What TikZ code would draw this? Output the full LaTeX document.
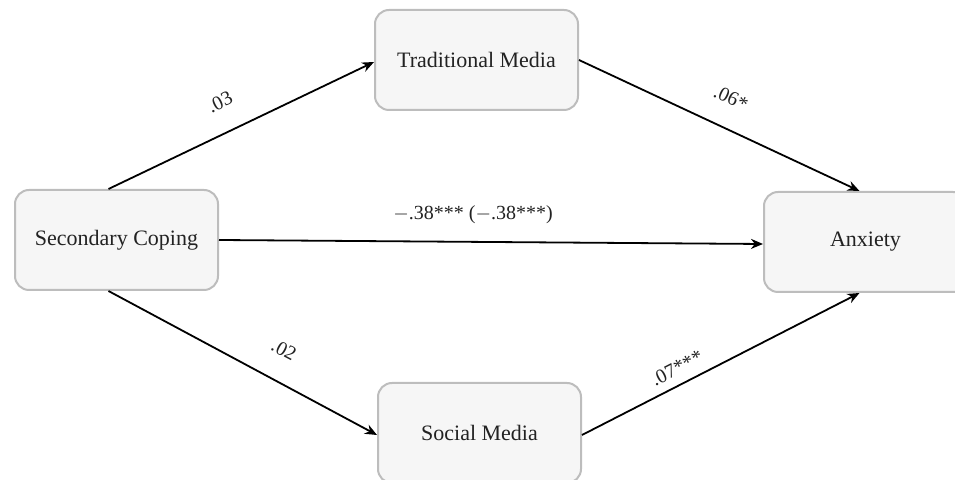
\documentclass[tikz,border=0pt]{standalone}
\usepackage{fontspec}
\setmainfont{Liberation Serif}
\usetikzlibrary{arrows.meta, positioning}
\definecolor{boxfill}{HTML}{F6F6F6}
\definecolor{boxline}{HTML}{BDBDBD}
\definecolor{txt}{HTML}{222222}

\begin{document}
\begin{tikzpicture}[
    x=0.5pt, y=-0.5pt,
    varbox/.style={rectangle, draw=boxline, fill=boxfill, line width=1pt, rounded corners=7pt, minimum width=101.5pt, minimum height=50pt, align=center, font=\fontsize{11}{13}\selectfont, text=txt},
    arrow/.style={-{Stealth[length=6pt, width=5pt]}, line width=0.9pt},
    coef/.style={font=\fontsize{10}{12}\selectfont, text=txt, inner sep=1pt}
]
    \clip (0,0) rectangle (955,480);
    \useasboundingbox (0,0) rectangle (955,480);

    % Variables
    \node[varbox] (sc) at (116.5, 240) {Secondary Coping};
    \node[varbox] (tm) at (476.5, 60) {Traditional Media};
    \node[varbox] (sm) at (479.5, 433) {Social Media};
    \node[varbox] (anx) at (865.5, 242) {Anxiety};

    % Paths
    \draw[arrow] ([xshift=-4pt]sc.north) -- ([yshift=-1pt]tm.west);
    \draw[arrow] (tm.east) -- ([xshift=-3pt]anx.north);
    \draw[arrow] (sc.east) -- ([yshift=-1pt]anx.west);
    \draw[arrow] ([xshift=-4pt]sc.south) -- ([yshift=-1pt]sm.west);
    \draw[arrow] ([yshift=-1pt]sm.east) -- ([xshift=-3pt]anx.south);

    % Coefficients
    \node[coef, rotate=26] (c03) at (220, 102) {.03};
    \node[coef, rotate=-25] (c06) at (731, 98) {.06*};
    \node[coef] (c38) at (473, 215) {$-$.38*** ($-$.38***)};
    \node[coef, rotate=-28] (c02) at (284, 350) {.02};
    \node[coef, rotate=27] (c07) at (677, 368) {.07***};
\end{tikzpicture}
\end{document}
